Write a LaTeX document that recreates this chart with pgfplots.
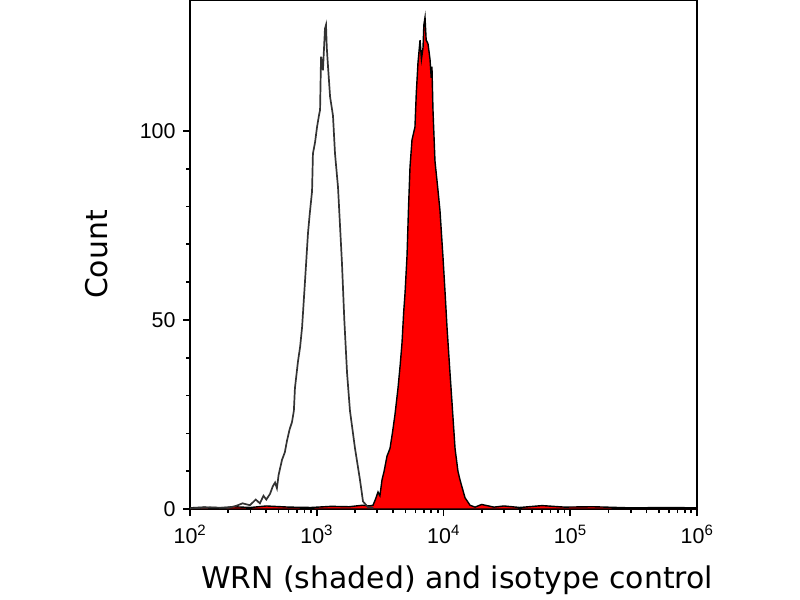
\documentclass[border=0pt]{standalone}
\usepackage{pgfplots}
\pgfplotsset{compat=1.18}
\usepackage{fontspec}
\setmainfont{DejaVu Sans}
\newfontfamily\tickfont{Liberation Sans}
\definecolor{isogray}{HTML}{333333}
\begin{document}
\begin{tikzpicture}
\useasboundingbox (-190bp,-91bp) rectangle (610bp,509bp);
\begin{axis}[
  scale only axis, width=507bp, height=509bp,
  at={(0,0)}, anchor=south west,
  xmode=log, xmin=100, xmax=1000000,
  ymin=0, ymax=134.6,
  axis line style={line width=1.8bp, black},
  every tick/.style={line width=1.7bp, black},
  tick align=outside, major tick length=7bp, minor tick length=4bp,
  xtick pos=bottom, ytick pos=left,
  xtick={100,1000,10000,100000,1000000},
  xticklabels={10\textsuperscript{2},10\textsuperscript{3},10\textsuperscript{4},10\textsuperscript{5},10\textsuperscript{6}},
  ytick={0,50,100}, minor y tick num=4,
  /pgf/number format/assume math mode=true,
  tick label style={font=\tickfont\fontsize{21.5}{24}\selectfont},
  xticklabel style={yshift=-6bp},
  yticklabel style={xshift=-4bp},
  xlabel={WRN (shaded) and isotype control},
  ylabel={Count},
  label style={font=\fontsize{30}{34}\selectfont},
  xlabel style={at={(axis description cs:0.5266,-0.139)}, anchor=center},
  ylabel style={at={(axis description cs:-0.1834,0.5)}, anchor=center},
  clip=true,
]
\addplot[fill=red, draw=black, line width=1.4bp] table {
x y
100 0.3
130 0.5
170 0.3
220 0.6
300 0.4
400 0.8
600 0.5
900 0.4
1300 0.7
1800 0.6
2300 1.0
2600 0.8
2780 1.0
2900 2.5
3043 4.5
3150 3.5
3272 7.7
3400 10
3583 14
3783 16
3950 20
4143 25
4377 32
4550 38
4707 44
4850 52
4970 57
5155 67
5300 80
5443 90.5
5641 97.6
5953 101
6100 110
6291 118
6531 124
6700 119
6893 122
7000 128
7148 130
7300 124
7548 123
7823 119
8000 114
8107 117
8260 105.5
8565 92
9000 85
9377 79
9902 66.7
10300 57
10661 48
11200 37
11677 28
12332 16
13000 10
13495 7.7
14776 3
16180 1
17735 0.5
20000 1.2
25000 0.5
30000 0.8
40000 0.4
60000 0.9
90000 0.5
150000 0.6
300000 0.3
600000 0.4
1000000 0.3
} \closedcycle;
\addplot[isogray, line width=1.7bp] table {
x y
100 0.2
150 0.4
200 0.3
230 0.8
260 1.5
297 1
330 2.5
356 1.5
380 3.5
400 2.5
428 4
450 6
469 7
485 5.5
500 9
532 13
560 15
582 18
610 21
638 23
660 26
673 32
711 39
740 43
766 48
807 60
853 73
880 78
918 84
933 94
970 97
1005 101
1040 104
1062 105.5
1081 119.6
1119 116
1161 127
1183 128
1200 122
1227 117
1274 109
1343 104
1393 94
1472 85
1581 65
1650 50
1734 36
1828 26
2004 16
2193 7.7
2317 2
2535 0.5
2800 0.3
} ;
\end{axis}
\end{tikzpicture}
\end{document}
